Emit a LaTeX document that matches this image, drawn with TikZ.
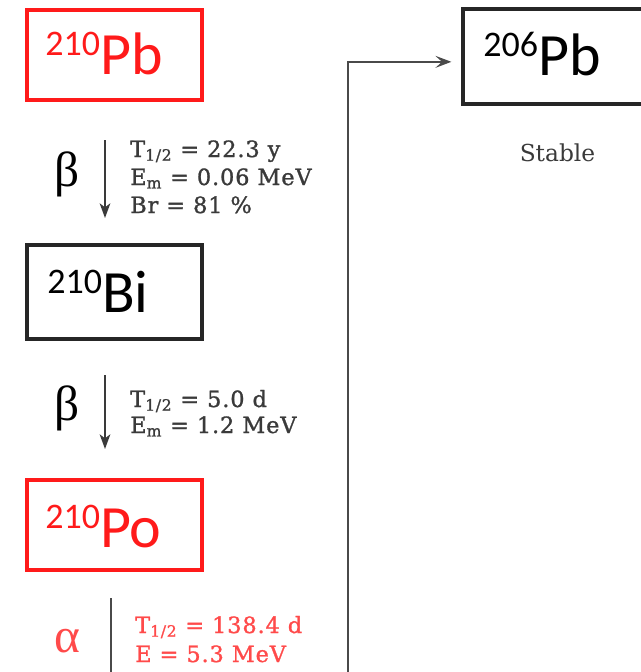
\documentclass[tikz,border=0pt]{standalone}
\usepackage{fontspec}
\setmainfont{DejaVu Serif}
\newfontfamily\boxfont{Carlito}
\newfontfamily\infofont[LetterSpace=4,FakeBold=1.2]{DejaVu Serif}
\newfontfamily\greekfont{Liberation Serif}
\usetikzlibrary{arrows.meta}

\definecolor{decayred}{HTML}{FF1A1A}
\definecolor{infogray}{HTML}{3A3A3A}
\definecolor{infored}{HTML}{FF4A4A}
\definecolor{linkgray}{HTML}{4A4A4A}

% nuclide symbol: mass number raised, element in large type
\newcommand\nuclide[2]{{\boxfont\raisebox{14pt}{\fontsize{27}{27}\selectfont #1}\fontsize{45}{45}\selectfont #2}}

\begin{document}
\begin{tikzpicture}[x=0.75pt,y=-0.75pt,
  nucbox/.style={draw, line width=2.4pt, inner sep=0pt},
  redbox/.style={nucbox, draw=decayred},
  blackbox/.style={nucbox, draw=black!85},
  nucname/.style={anchor=base west, inner sep=0pt},
  info/.style={anchor=base west, inner sep=0pt, font=\infofont\fontsize{16.8}{16.8}\selectfont, text=infogray},
  inforedtxt/.style={info, text=infored},
  greek/.style={inner sep=0pt, font=\greekfont\fontsize{37}{37}\selectfont},
  decayarrow/.style={draw=infogray, line width=1.2pt, -{Stealth[length=11pt,width=8pt,inset=3pt]}},
  link/.style={draw=linkgray, line width=1.3pt}
]
\useasboundingbox (0,0) rectangle (641,672);
\clip (0,0) rectangle (641,672);

% nuclide boxes
\node[redbox, minimum width=131.25pt, minimum height=67.5pt] (pb210) at (114.5,55) {};
\node[blackbox, minimum width=131.25pt, minimum height=70.5pt] (bi210) at (114.5,292) {};
\node[redbox, minimum width=131.25pt, minimum height=67.5pt] (po210) at (114.5,525) {};
\node[blackbox, minimum width=136.5pt, minimum height=71.25pt] (pb206) at (554,56.5) {};

% nuclide names
\node[nucname, text=decayred] (pb210t) at (45,74) {\nuclide{210}{Pb}};
\node[nucname, text=black] (bi210t) at (47,312) {\nuclide{210}{Bi}};
\node[nucname, text=decayred] (po210t) at (45,547) {\nuclide{210}{Po}};
\node[nucname, text=black] (pb206t) at (483,75) {\nuclide{206}{Pb}};

\node[anchor=base, inner sep=0pt, font=\fontsize{17.5}{17.5}\selectfont, text=infogray] (stable) at (557.5,161) {Stable};

% beta decay of Pb-210
\coordinate (b1top) at (105,140);
\coordinate (b1bot) at (105,218);
\draw[decayarrow] (b1top) -- (b1bot);
\node[greek, text=black] (beta1) at (67,174) {β};
\node[info] (t1a) at (130,157) {T\textsubscript{1/2} = 22.3 y};
\node[info] (t1b) at (130,185) {E\textsubscript{m} = 0.06 MeV};
\node[info] (t1c) at (130,213) {Br = 81 \%};

% beta decay of Bi-210
\coordinate (b2top) at (105,375);
\coordinate (b2bot) at (105,449);
\draw[decayarrow] (b2top) -- (b2bot);
\node[greek, text=black] (beta2) at (67,408) {β};
\node[info] (t2a) at (130,407) {T\textsubscript{1/2} = 5.0 d};
\node[info] (t2b) at (130,433) {E\textsubscript{m} = 1.2 MeV};

% alpha decay of Po-210
\coordinate (atop) at (111,598);
\coordinate (abot) at (111,700);
\draw[link] (atop) -- (abot);
\node[greek, text=infored] (alpha) at (67,641) {α};
\node[inforedtxt] (t3a) at (135,633) {T\textsubscript{1/2} = 138.4 d};
\node[inforedtxt] (t3b) at (135,662) {E = 5.3 MeV};

% return path to the stable end product
\coordinate (feed) at (348,700);
\draw[link, -{Stealth[length=12pt,width=9pt,inset=5pt]}, shorten >=7.5pt]
  (feed) |- ([yshift=-4pt]pb206.west);
\end{tikzpicture}
\end{document}
